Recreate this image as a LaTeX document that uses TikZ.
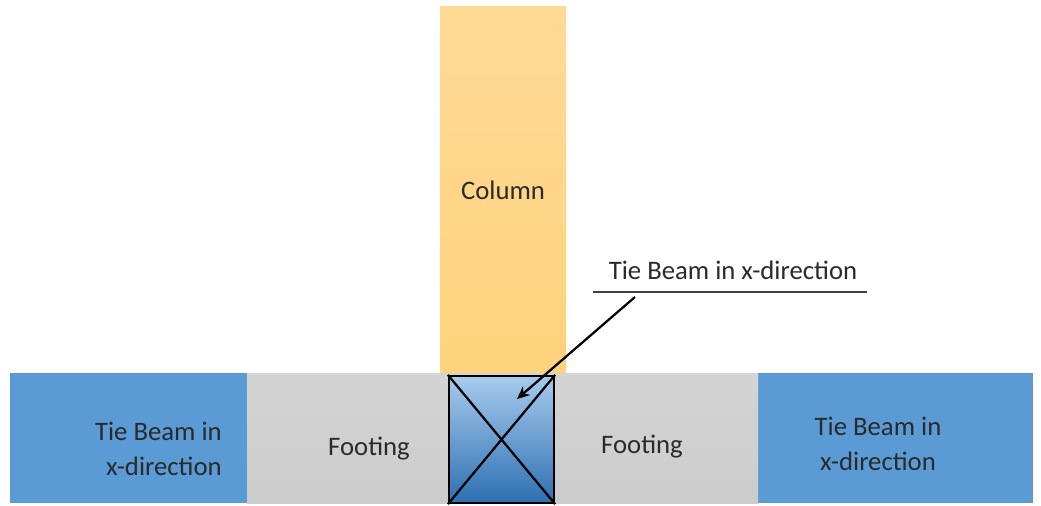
\documentclass[tikz,border=0pt]{standalone}
\usepackage{fontspec}
\setmainfont{Carlito}
\usetikzlibrary{arrows.meta}
\definecolor{colTop}{HTML}{FFDA95}
\definecolor{colBot}{HTML}{FFD27C}
\definecolor{beamBlue}{HTML}{5B9BD5}
\definecolor{footTop}{HTML}{D4D4D4}
\definecolor{footBot}{HTML}{CCCCCC}
\definecolor{secTop}{HTML}{A7CBED}
\definecolor{secBot}{HTML}{2E70B2}
\definecolor{txt}{HTML}{2A2A2A}
\begin{document}
\begin{tikzpicture}[x=0.025cm,y=-0.025cm,
  lbl/.style={text=txt,inner sep=0pt,font=\fontsize{19}{24.5}\selectfont}]
  \useasboundingbox (0,0) rectangle (1041,506);
  % Column
  \shade[top color=colTop,bottom color=colBot] (440,6) rectangle (566,376);
  \node[lbl] (column) at (503,190) {Column};
  % Tie beams
  \fill[beamBlue] (10,373) rectangle (247,503);
  \fill[beamBlue] (758,373) rectangle (1033,503);
  \node[lbl,align=right,anchor=east] (beamL) at (222,449) {Tie Beam in\\x-direction};
  \node[lbl,align=center] (beamR) at (878,444) {Tie Beam in\\x-direction};
  % Footing
  \shade[top color=footTop,bottom color=footBot] (247,373) rectangle (758,503);
  \node[lbl] (footL) at (369,449) {Footing};
  \node[lbl] (footR) at (642,447) {Footing};
  % Column section with cross
  \node[draw,line width=1.6pt,top color=secTop,bottom color=secBot,
    minimum width=105*0.025cm,minimum height=127*0.025cm,inner sep=0pt]
    (sec) at (501.5,439.5) {};
  \draw[line width=1.6pt] (sec.north west) -- (sec.south east)
    (sec.south west) -- (sec.north east);
  % Leader to the tie beam
  \node[lbl] (tbx) at (733,270) {Tie Beam in x-direction};
  \coordinate (ulA) at (593,292);
  \coordinate (ulB) at (867,292);
  \draw[line width=1.3pt,black!75] (ulA) -- (ulB);
  \coordinate (lead) at (635,297);
  \coordinate (tip) at (517,399);
  \draw[line width=1.6pt,-{Stealth[length=9pt,width=8pt]}] (lead) -- (tip);
\end{tikzpicture}
\end{document}
